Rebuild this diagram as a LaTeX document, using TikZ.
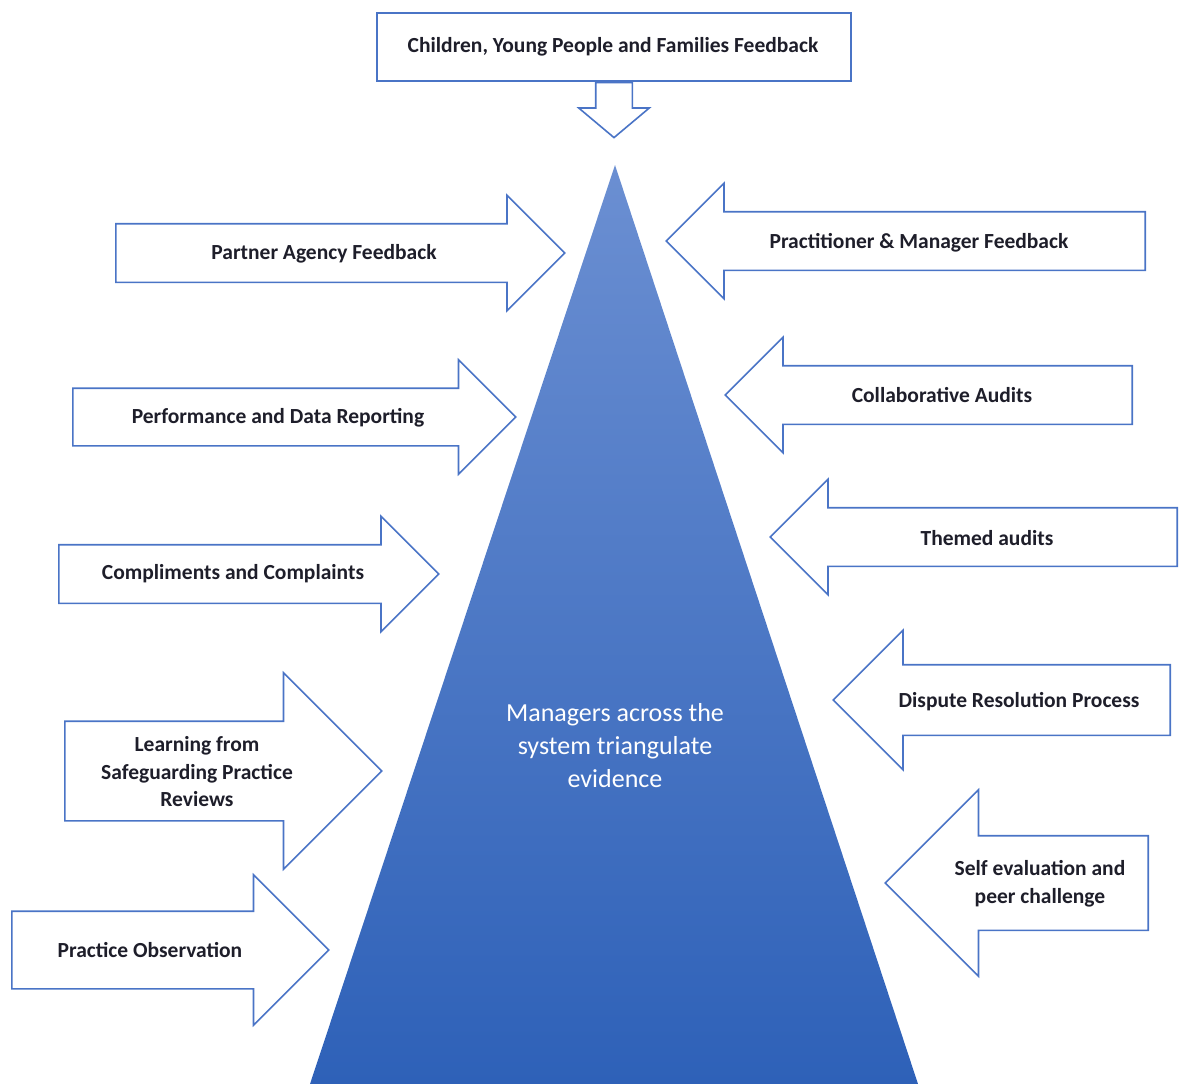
\documentclass[tikz,border=0pt]{standalone}
\usepackage{fontspec}
\setmainfont{Carlito}
\usetikzlibrary{shapes.arrows,positioning}

\definecolor{arrowblue}{HTML}{4A74C6}
\definecolor{tritop}{HTML}{6B8FD2}
\definecolor{tribottom}{HTML}{2E61B8}
\definecolor{labeltext}{HTML}{1E1E2A}

\begin{document}
\begin{tikzpicture}[
    x=1pt, y=-1pt,
    blockarrow/.style={single arrow, draw=arrowblue, line width=1.6pt, fill=white,
        single arrow head indent=0pt, anchor=tail},
    rightarrow/.style={blockarrow},
    leftarrow/.style={blockarrow, shape border rotate=180},
    arrowtext/.style={font=\fontsize{21.5}{27.5}\selectfont\bfseries, text=labeltext, align=center},
    topbox/.style={rectangle, draw=arrowblue, line width=1.6pt, fill=white,
        minimum width=474, minimum height=68, inner sep=0pt}
]
\useasboundingbox (0,0) rectangle (1179,1084);

% Pyramid
\shade[top color=tritop, bottom color=tribottom] (615,165) -- (918,1084) -- (310,1084) -- cycle;
\node (mgr) at (615,746) [font=\fontsize{26}{33}\selectfont, text=white, align=center]
    {Managers across the\\system triangulate\\evidence};

% Top feedback box and its arrow
\node (cypf) at (614,47) [topbox] {};
\node (cypft) at (613,47) [arrowtext] {Children, Young People and Families Feedback};
\node (cypfa) at (cypf.south) [blockarrow, shape border rotate=270, minimum height=55,
    inner sep=17.5, single arrow head extend=17, single arrow tip angle=100] {};

% Left side arrows
\node (paf) at (115,253) [rightarrow, minimum height=449, inner sep=28.5, single arrow head extend=28.5] {};
\node (paft) at (324,254) [arrowtext] {Partner Agency Feedback};

\node (pdr) at (72,417) [rightarrow, minimum height=443, inner sep=28, single arrow head extend=28.5] {};
\node (pdrt) at (278,418) [arrowtext] {Performance and Data Reporting};

\node (cc) at (58,574) [rightarrow, minimum height=380, inner sep=28.5, single arrow head extend=28.5] {};
\node (cct) at (233,574) [arrowtext] {Compliments and Complaints};

\node (lsp) at (64,771) [rightarrow, minimum height=317, inner sep=49, single arrow head extend=48.5] {};
\node (lspt) at (197,772) [arrowtext] {Learning from\\Safeguarding Practice\\Reviews};

\node (po) at (11,950) [rightarrow, minimum height=317, inner sep=38, single arrow head extend=36.5] {};
\node (pot) at (150,950) [arrowtext] {Practice Observation};

% Right side arrows
\node (pmf) at (1146,241) [leftarrow, minimum height=479, inner sep=28.5, single arrow head extend=28.5] {};
\node (pmft) at (919,243) [arrowtext] {Practitioner \& Manager Feedback};

\node (ca) at (1133,395) [leftarrow, minimum height=407, inner sep=28.5, single arrow head extend=28.5] {};
\node (cat) at (942,395) [arrowtext] {Collaborative Audits};

\node (ta) at (1178,537) [leftarrow, minimum height=407, inner sep=28.5, single arrow head extend=28.5] {};
\node (tat) at (987,538) [arrowtext] {Themed audits};

\node (drp) at (1171,700) [leftarrow, minimum height=337, inner sep=34.5, single arrow head extend=34.5] {};
\node (drpt) at (1019,702) [arrowtext] {Dispute Resolution Process};

\node (sepc) at (1149,883) [leftarrow, minimum height=263, inner sep=46.5, single arrow head extend=46] {};
\node (sepct) at (1040,884) [arrowtext] {Self evaluation and\\peer challenge};

\end{tikzpicture}
\end{document}
